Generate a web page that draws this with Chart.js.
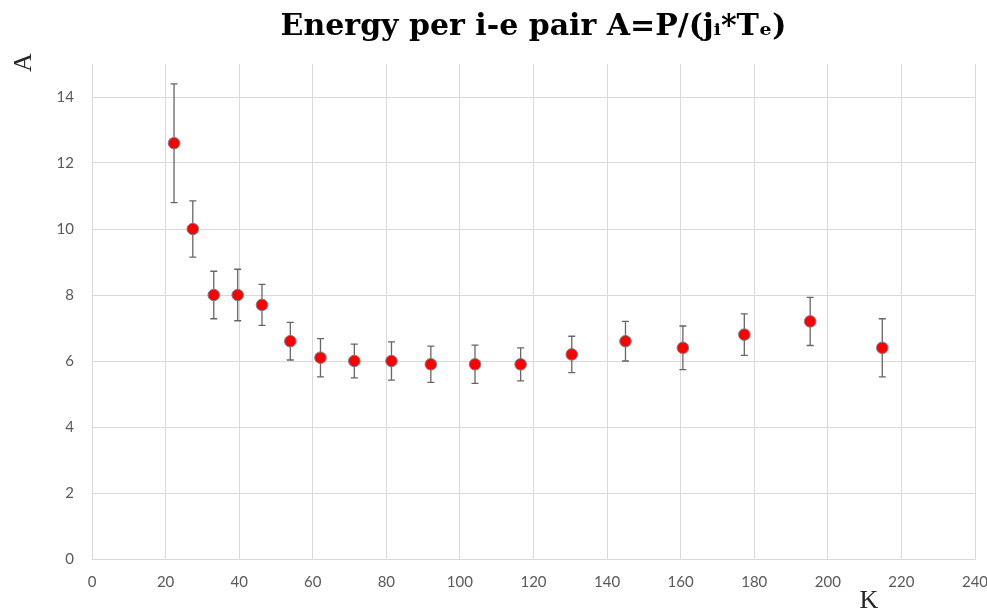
<!DOCTYPE html>
<html>
<head>
<meta charset="utf-8">
<script src="https://cdn.jsdelivr.net/npm/chart.js@4"></script>
<style>
  html, body { margin: 0; padding: 0; background: #fff; }
  #wrap { width: 987px; height: 615px; position: relative; }
</style>
</head>
<body>
<div id="wrap"><canvas id="c"></canvas></div>
<script>
// ---- data ----
const titleText = "Energy per i-e pair A=P/(jᵢ*Tₑ)";
const xAxisTitle = "K";
const yAxisTitle = "A";
const kValues = [22.3, 27.4, 33.1, 39.6, 46.2, 53.9, 62.1, 71.3, 81.4, 92.1, 104.1, 116.5, 130.4, 145.0, 160.6, 177.3, 195.2, 214.8];
const aValues = [12.6, 10.0, 8.0, 8.0, 7.7, 6.6, 6.1, 6.0, 6.0, 5.9, 5.9, 5.9, 6.2, 6.6, 6.4, 6.8, 7.2, 6.4];
const aErrors = [1.8, 0.85, 0.72, 0.78, 0.62, 0.57, 0.58, 0.51, 0.58, 0.55, 0.58, 0.5, 0.55, 0.6, 0.66, 0.63, 0.73, 0.88];
const xTickMax = 240, xTickStep = 20;
const yTickMax = 14, yAxisMax = 15, yTickStep = 2;

const points = kValues.map((k, i) => ({ x: k, y: aValues[i] }));

const errorBarPlugin = {
  id: 'errorBars',
  beforeDatasetsDraw(chart) {
    const { ctx, scales: { x, y } } = chart;
    ctx.save();
    ctx.strokeStyle = '#666666';
    ctx.lineWidth = 1.3;
    const cap = 3.5;
    kValues.forEach((k, i) => {
      const px = x.getPixelForValue(k);
      const top = y.getPixelForValue(aValues[i] + aErrors[i]);
      const bot = y.getPixelForValue(aValues[i] - aErrors[i]);
      ctx.beginPath();
      ctx.moveTo(px, top); ctx.lineTo(px, bot);
      ctx.moveTo(px - cap, top); ctx.lineTo(px + cap, top);
      ctx.moveTo(px - cap, bot); ctx.lineTo(px + cap, bot);
      ctx.stroke();
    });
    ctx.restore();
  }
};

const axisTitlePlugin = {
  id: 'axisTitles',
  afterDraw(chart) {
    const { ctx, chartArea } = chart;
    ctx.save();
    ctx.fillStyle = '#262626';
    ctx.font = '26px "Liberation Serif", serif';
    ctx.textAlign = 'center';
    ctx.textBaseline = 'middle';
    // x axis title
    ctx.fillText(xAxisTitle, chartArea.right - 106, chartArea.bottom + 42);
    // y axis title (rotated)
    ctx.translate(24, chartArea.top - 1.5);
    ctx.rotate(-Math.PI / 2);
    ctx.fillText(yAxisTitle, 0, 0);
    ctx.restore();
  }
};

new Chart(document.getElementById('c'), {
  type: 'scatter',
  data: {
    datasets: [{
      data: points,
      pointRadius: 5.8,
      pointHoverRadius: 5.8,
      pointBackgroundColor: '#ff0000',
      pointBorderColor: '#768295',
      pointBorderWidth: 1,
      showLine: false
    }]
  },
  options: {
    responsive: true,
    maintainAspectRatio: false,
    animation: false,
    layout: { padding: { left: 0, right: 0, top: 0, bottom: 0 } },
    plugins: {
      legend: { display: false },
      tooltip: { enabled: false },
      title: {
        display: true,
        fullSize: false,
        text: titleText,
        color: '#000000',
        font: { family: '"DejaVu Serif", serif', size: 30, weight: 'bold', lineHeight: 1.2 },
        padding: { top: 9, bottom: 19 }
      }
    },
    scales: {
      x: {
        type: 'linear',
        min: 0,
        max: xTickMax,
        afterFit(scale) {
          scale.height = 56;
          scale.paddingRight = 12;
          scale.paddingLeft = 0;
        },
        ticks: {
          stepSize: xTickStep,
          color: '#595959',
          font: { family: 'Lato, "Liberation Sans", sans-serif', size: 15 },
          padding: 14,
          maxRotation: 0
        },
        grid: { color: '#d9d9d9', lineWidth: 1, drawTicks: false },
        border: { color: '#d9d9d9', width: 1 }
      },
      y: {
        type: 'linear',
        min: 0,
        max: yAxisMax,
        afterFit(scale) { scale.width = 92; },
        afterBuildTicks(scale) { scale.ticks = scale.ticks.filter(t => t.value <= yTickMax); },
        ticks: {
          stepSize: yTickStep,
          color: '#595959',
          font: { family: 'Lato, "Liberation Sans", sans-serif', size: 15 },
          padding: 18
        },
        grid: { color: '#d9d9d9', lineWidth: 1, drawTicks: false },
        border: { color: '#d9d9d9', width: 1 }
      }
    }
  },
  plugins: [errorBarPlugin, axisTitlePlugin]
});
</script>
</body>
</html>
